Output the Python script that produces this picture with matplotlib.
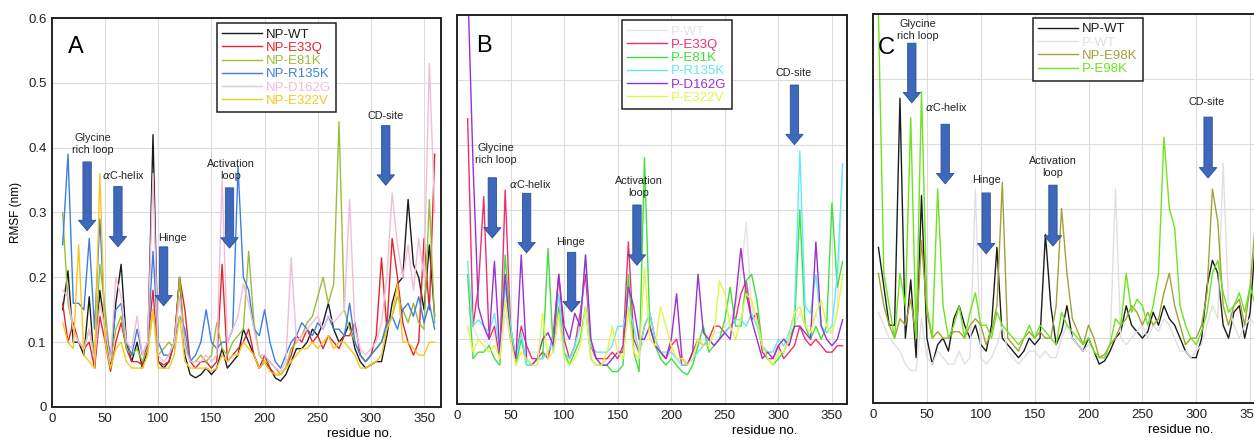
import numpy as np
import matplotlib
matplotlib.use('Agg')
import matplotlib.pyplot as plt

plt.rcParams['font.family'] = ['Liberation Sans', 'DejaVu Sans']

# residue numbers (sampled every 5 residues)
res_ab = np.arange(10, 361, 5)
res_c = np.arange(5, 361, 5)

# ---- panel A : NP forms
a_np_wt = [0.15,0.21,0.10,0.10,0.08,0.17,0.06,0.18,0.12,0.06,
           0.16,0.22,0.10,0.07,0.10,0.06,0.09,0.42,0.07,0.06,
           0.07,0.10,0.20,0.08,0.05,0.045,0.05,0.06,0.05,0.06,
           0.09,0.06,0.07,0.08,0.12,0.10,0.08,0.06,0.07,0.06,
           0.045,0.04,0.05,0.07,0.09,0.09,0.10,0.12,0.11,0.13,
           0.16,0.12,0.10,0.11,0.13,0.09,0.07,0.06,0.065,0.07,
           0.07,0.11,0.16,0.19,0.20,0.32,0.22,0.20,0.15,0.25,0.14]
a_np_e33q = [0.16,0.10,0.13,0.10,0.09,0.10,0.06,0.14,0.10,0.055,
             0.10,0.13,0.09,0.07,0.07,0.065,0.10,0.18,0.07,0.065,
             0.07,0.10,0.20,0.15,0.07,0.06,0.07,0.07,0.06,0.07,
             0.22,0.07,0.08,0.09,0.10,0.12,0.08,0.06,0.08,0.06,
             0.05,0.05,0.06,0.08,0.11,0.10,0.12,0.10,0.11,0.09,
             0.11,0.10,0.09,0.11,0.11,0.13,0.08,0.07,0.08,0.11,
             0.23,0.12,0.26,0.20,0.13,0.10,0.08,0.10,0.26,0.15,0.39]
a_np_e81k = [0.30,0.16,0.12,0.10,0.09,0.12,0.08,0.22,0.15,0.07,
             0.12,0.14,0.09,0.08,0.09,0.07,0.09,0.15,0.08,0.09,
             0.10,0.09,0.20,0.10,0.07,0.07,0.08,0.07,0.08,0.13,
             0.09,0.08,0.10,0.11,0.12,0.24,0.13,0.08,0.07,0.07,
             0.06,0.05,0.06,0.09,0.10,0.11,0.13,0.14,0.17,0.20,
             0.16,0.19,0.44,0.15,0.12,0.10,0.08,0.07,0.08,0.09,
             0.10,0.12,0.14,0.17,0.15,0.13,0.16,0.13,0.12,0.32,0.13]
a_np_r135k = [0.25,0.39,0.16,0.16,0.15,0.26,0.12,0.29,0.12,0.08,
              0.15,0.16,0.10,0.08,0.12,0.08,0.10,0.24,0.10,0.08,
              0.08,0.10,0.14,0.12,0.07,0.08,0.10,0.15,0.10,0.09,
              0.10,0.10,0.12,0.37,0.20,0.18,0.12,0.11,0.15,0.10,
              0.07,0.06,0.08,0.10,0.11,0.13,0.12,0.11,0.13,0.12,
              0.14,0.12,0.12,0.11,0.16,0.10,0.08,0.07,0.08,0.09,
              0.10,0.13,0.14,0.12,0.15,0.16,0.14,0.17,0.13,0.16,0.12]
a_np_d162g = [0.18,0.17,0.12,0.10,0.09,0.12,0.07,0.16,0.12,0.07,
              0.20,0.17,0.10,0.09,0.14,0.08,0.10,0.36,0.08,0.07,
              0.08,0.10,0.17,0.09,0.07,0.07,0.07,0.08,0.07,0.08,
              0.35,0.10,0.12,0.14,0.19,0.16,0.12,0.08,0.08,0.07,
              0.06,0.055,0.07,0.23,0.10,0.11,0.12,0.13,0.14,0.12,
              0.14,0.13,0.14,0.15,0.32,0.12,0.09,0.08,0.09,0.10,
              0.13,0.20,0.33,0.25,0.20,0.25,0.18,0.26,0.20,0.53,0.30]
a_np_e322v = [0.13,0.10,0.09,0.25,0.08,0.07,0.06,0.36,0.10,0.06,
              0.09,0.10,0.07,0.06,0.06,0.06,0.08,0.15,0.06,0.06,
              0.06,0.08,0.14,0.07,0.06,0.06,0.06,0.06,0.055,0.06,
              0.08,0.07,0.08,0.08,0.10,0.09,0.08,0.06,0.07,0.055,
              0.05,0.05,0.06,0.07,0.08,0.09,0.09,0.10,0.09,0.10,
              0.11,0.09,0.10,0.10,0.09,0.08,0.06,0.06,0.065,0.07,
              0.08,0.12,0.14,0.19,0.10,0.10,0.09,0.08,0.08,0.10,0.10]

# ---- panel B : P forms
b_p_wt = [0.15,0.12,0.10,0.10,0.09,0.11,0.07,0.14,0.10,0.07,
          0.10,0.08,0.08,0.08,0.08,0.08,0.09,0.14,0.08,0.07,
          0.08,0.10,0.15,0.08,0.07,0.06,0.07,0.07,0.07,0.08,
          0.14,0.09,0.08,0.10,0.12,0.09,0.08,0.07,0.08,0.07,
          0.07,0.065,0.07,0.09,0.10,0.10,0.11,0.11,0.12,0.13,
          0.15,0.20,0.28,0.15,0.12,0.09,0.08,0.08,0.09,0.09,
          0.10,0.12,0.14,0.12,0.12,0.14,0.12,0.11,0.11,0.14,0.37]
b_p_e33q = [0.44,0.12,0.18,0.32,0.10,0.12,0.07,0.33,0.12,0.07,
            0.12,0.09,0.07,0.07,0.08,0.07,0.11,0.20,0.10,0.07,
            0.09,0.14,0.20,0.09,0.07,0.07,0.07,0.08,0.07,0.09,
            0.25,0.10,0.08,0.12,0.14,0.10,0.08,0.07,0.09,0.10,
            0.06,0.06,0.08,0.10,0.09,0.10,0.12,0.12,0.11,0.12,
            0.13,0.17,0.19,0.13,0.14,0.08,0.07,0.07,0.09,0.07,
            0.08,0.09,0.12,0.10,0.09,0.10,0.09,0.08,0.08,0.09,0.09]
b_p_e81k = [0.20,0.07,0.08,0.08,0.09,0.07,0.06,0.23,0.12,0.06,
            0.10,0.06,0.06,0.07,0.07,0.24,0.08,0.15,0.08,0.06,
            0.08,0.10,0.15,0.07,0.06,0.06,0.06,0.05,0.05,0.06,
            0.20,0.08,0.05,0.38,0.12,0.09,0.07,0.06,0.07,0.06,
            0.05,0.045,0.06,0.09,0.12,0.08,0.09,0.10,0.13,0.18,
            0.12,0.12,0.19,0.20,0.16,0.09,0.07,0.06,0.07,0.08,
            0.10,0.12,0.30,0.12,0.10,0.12,0.10,0.12,0.31,0.18,0.22]
b_p_r135k = [0.22,0.12,0.13,0.12,0.11,0.14,0.08,0.18,0.12,0.07,
             0.11,0.06,0.06,0.07,0.07,0.08,0.10,0.17,0.08,0.07,
             0.09,0.12,0.23,0.09,0.08,0.08,0.08,0.09,0.12,0.12,
             0.15,0.12,0.08,0.12,0.14,0.10,0.08,0.08,0.08,0.07,
             0.06,0.06,0.07,0.08,0.09,0.10,0.09,0.10,0.11,0.12,
             0.13,0.13,0.12,0.14,0.12,0.09,0.08,0.08,0.10,0.09,
             0.11,0.14,0.39,0.15,0.14,0.20,0.12,0.11,0.12,0.20,0.37]
b_p_d162g = [0.65,0.37,0.15,0.12,0.10,0.22,0.08,0.20,0.10,0.07,
             0.23,0.07,0.06,0.07,0.10,0.11,0.09,0.20,0.12,0.10,
             0.14,0.12,0.23,0.10,0.07,0.06,0.06,0.07,0.08,0.08,
             0.18,0.15,0.10,0.10,0.12,0.09,0.08,0.07,0.10,0.17,
             0.07,0.06,0.08,0.20,0.11,0.10,0.09,0.10,0.11,0.10,
             0.16,0.24,0.17,0.13,0.10,0.07,0.08,0.07,0.09,0.10,
             0.09,0.12,0.12,0.11,0.10,0.25,0.12,0.10,0.09,0.10,0.13]
b_p_e322v = [0.12,0.08,0.10,0.09,0.08,0.09,0.07,0.16,0.10,0.06,
             0.08,0.07,0.06,0.06,0.14,0.07,0.08,0.14,0.07,0.06,
             0.07,0.09,0.15,0.07,0.06,0.06,0.08,0.12,0.08,0.07,
             0.15,0.08,0.07,0.21,0.10,0.09,0.15,0.12,0.09,0.07,
             0.07,0.06,0.07,0.10,0.09,0.09,0.11,0.19,0.17,0.12,
             0.10,0.13,0.17,0.16,0.13,0.09,0.07,0.06,0.08,0.08,
             0.10,0.14,0.15,0.12,0.11,0.14,0.16,0.12,0.11,0.14,0.20]

# ---- panel C : E98K
c_np_wt = [0.24,
           0.18,0.12,0.12,0.47,0.10,0.19,0.07,0.32,0.10,0.06,
           0.09,0.10,0.08,0.13,0.15,0.12,0.10,0.12,0.09,0.08,
           0.12,0.24,0.10,0.09,0.08,0.07,0.08,0.10,0.09,0.10,
           0.26,0.15,0.09,0.11,0.15,0.10,0.09,0.08,0.10,0.08,
           0.06,0.065,0.08,0.10,0.11,0.15,0.12,0.11,0.10,0.11,
           0.14,0.12,0.15,0.13,0.12,0.10,0.08,0.07,0.07,0.10,
           0.18,0.22,0.20,0.12,0.10,0.14,0.15,0.10,0.14,0.25,0.40]
c_p_wt = [0.14,
          0.12,0.10,0.09,0.08,0.06,0.05,0.05,0.13,0.07,0.06,
          0.08,0.07,0.06,0.06,0.08,0.06,0.07,0.33,0.07,0.06,
          0.07,0.09,0.12,0.08,0.07,0.06,0.07,0.08,0.08,0.07,
          0.08,0.07,0.07,0.10,0.12,0.10,0.09,0.08,0.09,0.08,
          0.07,0.07,0.09,0.33,0.10,0.09,0.10,0.11,0.12,0.10,
          0.12,0.11,0.13,0.12,0.10,0.08,0.08,0.07,0.08,0.09,
          0.12,0.15,0.13,0.37,0.15,0.12,0.10,0.12,0.13,0.12,0.15]
c_np_e98k = [0.20,
             0.15,0.12,0.10,0.13,0.12,0.16,0.10,0.25,0.14,0.10,
             0.11,0.10,0.10,0.11,0.11,0.10,0.12,0.13,0.12,0.09,
             0.11,0.15,0.34,0.10,0.09,0.08,0.10,0.11,0.10,0.11,
             0.10,0.10,0.15,0.30,0.20,0.13,0.11,0.09,0.12,0.10,
             0.07,0.075,0.09,0.10,0.12,0.13,0.15,0.14,0.12,0.14,
             0.12,0.13,0.17,0.20,0.15,0.12,0.09,0.10,0.10,0.12,
             0.17,0.33,0.28,0.15,0.12,0.15,0.16,0.12,0.18,0.28,0.30]
c_p_e98k = [0.60,
            0.20,0.15,0.10,0.20,0.15,0.44,0.10,0.48,0.15,0.10,
            0.33,0.15,0.10,0.12,0.15,0.10,0.14,0.17,0.12,0.12,
            0.10,0.14,0.12,0.11,0.10,0.09,0.10,0.12,0.10,0.12,
            0.11,0.10,0.09,0.14,0.12,0.11,0.10,0.09,0.10,0.08,
            0.07,0.07,0.09,0.13,0.12,0.20,0.14,0.16,0.15,0.12,
            0.15,0.20,0.41,0.30,0.27,0.15,0.12,0.10,0.09,0.11,
            0.14,0.20,0.22,0.17,0.14,0.15,0.17,0.14,0.18,0.15,0.17]

region_names = ['Glycine\nrich loop', r'$\alpha$C-helix', 'Hinge', 'Activation\nloop', 'CD-site']

fig = plt.figure(figsize=(12.54, 4.38), dpi=100)
axA = fig.add_axes([0.0415, 0.0708, 0.3102, 0.8881])
axB = fig.add_axes([0.3644, 0.0776, 0.3110, 0.8881])
axC = fig.add_axes([0.6962, 0.0799, 0.3110, 0.8881])


def style(ax, xmax, ylabels):
    ax.set_xlim(0, xmax)
    ax.set_ylim(0, 0.6)
    ax.set_xticks(range(0, 351, 50))
    ax.set_yticks([0, 0.1, 0.2, 0.3, 0.4, 0.5, 0.6])
    if ylabels:
        ax.set_yticklabels(['0', '0.1', '0.2', '0.3', '0.4', '0.5', '0.6'])
        ax.set_ylabel('RMSF (nm)', fontsize=8.5, labelpad=4)
    else:
        ax.set_yticklabels([])
    ax.tick_params(length=0, labelsize=9.5, pad=4, colors='#222222')
    ax.grid(True, color='#dcdcdc', lw=0.8)
    ax.set_axisbelow(True)
    for s in ax.spines.values():
        s.set_linewidth(1.4)
        s.set_color('#222222')
    ax.set_xlabel('residue no.', fontsize=9.5)
    ax.xaxis.set_label_coords(0.79, -0.055)


def arrows(ax, xs, tops, tips, texts_xy):
    for name, x, t0, t1, (tx, ty) in zip(region_names, xs, tops, tips, texts_xy):
        ax.annotate('', xy=(x, t1), xytext=(x, t0),
                    arrowprops=dict(arrowstyle='simple,tail_width=0.6,head_width=1.25,head_length=0.75',
                                    fc='#3d68bb', ec='#2c4f93', lw=0.6, shrinkA=0, shrinkB=0,
                                    mutation_scale=10))
        ax.text(tx, ty, name, ha='center', va='center', fontsize=7.8,
                linespacing=1.25, color='#222222')


def legend(ax, x0, y0):
    leg = ax.legend(loc='upper left', bbox_to_anchor=(x0, y0), fontsize=9.5,
                    handlelength=3.0, handletextpad=0.3, labelspacing=0.08,
                    borderpad=0.4, borderaxespad=0, fancybox=False,
                    edgecolor='#222222', framealpha=1)
    leg.get_frame().set_linewidth(1.1)
    for line, txt in zip(leg.get_lines(), leg.get_texts()):
        txt.set_color(line.get_color())


# panel A
lw = 1.0
axA.plot(res_ab, a_np_wt, color='#1c1c1c', lw=lw, label='NP-WT')
axA.plot(res_ab, a_np_e33q, color='#e3262b', lw=lw, label='NP-E33Q')
axA.plot(res_ab, a_np_e81k, color='#9cbc3a', lw=lw, label='NP-E81K')
axA.plot(res_ab, a_np_r135k, color='#3c7fe0', lw=lw, label='NP-R135K')
axA.plot(res_ab, a_np_d162g, color='#f2bcd8', lw=lw, label='NP-D162G')
axA.plot(res_ab, a_np_e322v, color='#f6c71c', lw=lw, label='NP-E322V')
style(axA, 366, True)
legend(axA, 0.424, 0.987)
axA.text(0.04, 0.955, 'A', transform=axA.transAxes, fontsize=17, va='top')
arrows(axA, [33, 62, 105, 167, 314], [0.378, 0.34, 0.247, 0.338, 0.434],
       [0.272, 0.247, 0.156, 0.245, 0.342],
       [(38, 0.406), (67, 0.358), (113, 0.26), (168, 0.366), (314, 0.449)])

# panel B
axB.plot(res_ab, b_p_wt, color='#e4e4e4', lw=lw, label='P-WT')
axB.plot(res_ab, b_p_e33q, color='#ee2f6c', lw=lw, label='P-E33Q')
axB.plot(res_ab, b_p_e81k, color='#3fdf3f', lw=lw, label='P-E81K')
axB.plot(res_ab, b_p_r135k, color='#62eaf2', lw=lw, label='P-R135K')
axB.plot(res_ab, b_p_d162g, color='#9a30d2', lw=lw, label='P-D162G')
axB.plot(res_ab, b_p_e322v, color='#e4f545', lw=lw, label='P-E322V')
style(axB, 364, False)
legend(axB, 0.423, 0.987)
axB.text(0.05, 0.949, 'B', transform=axB.transAxes, fontsize=17, va='top')
arrows(axB, [33, 65, 107, 168, 315], [0.349, 0.325, 0.234, 0.307, 0.492],
       [0.256, 0.233, 0.142, 0.214, 0.40],
       [(36, 0.386), (69, 0.339), (106, 0.25), (170, 0.335), (314, 0.51)])

# panel C
axC.plot(res_c, c_np_wt, color='#1c1c1c', lw=lw, label='NP-WT')
axC.plot(res_c, c_p_wt, color='#e0e0e0', lw=lw, label='P-WT')
axC.plot(res_c, c_np_e98k, color='#a0a236', lw=lw, label='NP-E98K')
axC.plot(res_c, c_p_e98k, color='#6de41e', lw=lw, label='P-E98K')
style(axC, 362, False)
legend(axC, 0.41, 0.99)
axC.text(0.013, 0.941, 'C', transform=axC.transAxes, fontsize=17, va='top')
arrows(axC, [36, 67, 105, 167, 311], [0.555, 0.43, 0.324, 0.336, 0.441],
       [0.463, 0.338, 0.23, 0.242, 0.347],
       [(42, 0.575), (68, 0.456), (105, 0.344), (167, 0.364), (310, 0.464)])

fig.savefig('out.png', dpi=100)
